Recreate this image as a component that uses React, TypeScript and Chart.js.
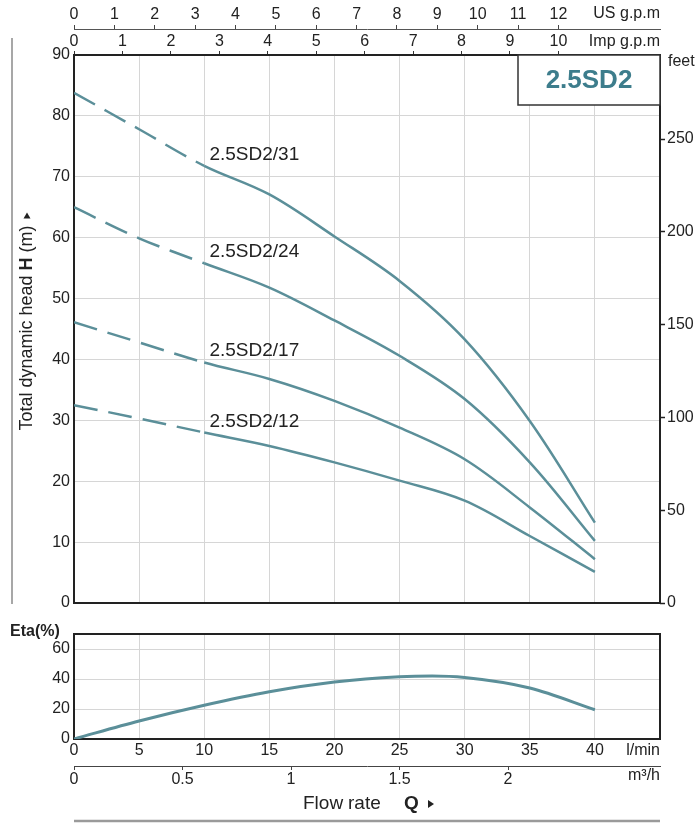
import React, { useEffect, useRef } from "react";
import { Chart, registerables } from "chart.js";

Chart.register(...registerables);

// ---------------- data ----------------
const FLOW_LMIN = [0, 5, 10, 15, 20, 25, 30, 35, 40];
const MODEL_NAMES = ["2.5SD2/31", "2.5SD2/24", "2.5SD2/17", "2.5SD2/12"];
const HEAD_31 = [83.8, 77.8, 71.8, 67.1, 60.2, 52.9, 43.3, 29.9, 13.2];
const HEAD_24 = [65.0, 59.9, 55.8, 51.8, 46.4, 40.6, 33.5, 23.1, 10.2];
const HEAD_17 = [46.1, 42.8, 39.5, 36.8, 33.2, 28.8, 23.6, 15.7, 7.2];
const HEAD_12 = [32.5, 30.3, 28.0, 25.8, 23.1, 20.1, 16.8, 11.0, 5.1];
const HEAD_SERIES = [HEAD_31, HEAD_24, HEAD_17, HEAD_12];

const ETA_FLOW = [0, 5, 10, 15, 20, 25, 27.5, 30, 35, 40];
const ETA_PCT = [0, 12, 22.5, 31.5, 38, 41.5, 42, 41, 34, 19.5];

const LMIN_TICKS = [0, 5, 10, 15, 20, 25, 30, 35, 40];
const M3H_TICKS = [0, 0.5, 1, 1.5, 2];
const USGPM_TICKS = [0, 1, 2, 3, 4, 5, 6, 7, 8, 9, 10, 11, 12];
const IMPGPM_TICKS = [0, 1, 2, 3, 4, 5, 6, 7, 8, 9, 10];
const FEET_TICKS = [0, 50, 100, 150, 200, 250];
const ETA_GRID = [0, 10, 20, 30, 40, 50, 60, 70];
const ETA_LABELED = [0, 20, 40, 60];
const CHART_TITLE = "2.5SD2";

// ---------------- scale constants ----------------
const FLOW_MAX = 45; // l/min at right edge
const HEAD_MAX = 90;
const ETA_MAX = 70;
const M_TO_FT = 3.28084;
const LMIN_PER_USGPM = 3.1;
const LMIN_PER_IMPGPM = 3.72;
const LMIN_PER_M3H = 1000 / 60;
const DASH_END = 10; // dashed part of curves up to this flow
const LABEL_FLOW = 10.4;

// ---------------- styles ----------------
const FONT = '"Liberation Sans", Arial, sans-serif';
const TEXT = "#222";
const CURVE = "#5b8f99";
const GRID = "#d6d6d6";
const FRAME = "#222";
const TITLE_COLOR = "#3d7d8c";

const tickFont = { family: FONT, size: 16 };

const setTicks = (arr: number[]) => (s: any) => {
  s.ticks = arr.map((v) => ({ value: v }));
};

const frameBorder = {
  id: "frameBorder",
  beforeDatasetsDraw(chart: any) {
    const { ctx, chartArea: a } = chart;
    ctx.save();
    ctx.strokeStyle = FRAME;
    ctx.lineWidth = 2;
    ctx.strokeRect(a.left, a.top, a.right - a.left, a.bottom - a.top);
    ctx.restore();
  },
};

const mainDecor = {
  id: "mainDecor",
  afterDraw(chart: any) {
    const { ctx, chartArea: a } = chart;
    ctx.save();
    // left vertical line
    ctx.strokeStyle = "#8a8a8a";
    ctx.lineWidth = 1.5;
    ctx.beginPath();
    ctx.moveTo(12, 38);
    ctx.lineTo(12, a.bottom + 1);
    ctx.stroke();

    // y title (rotated)
    ctx.save();
    ctx.translate(27, 321);
    ctx.rotate(-Math.PI / 2);
    ctx.textBaseline = "middle";
    ctx.fillStyle = TEXT;
    const reg = `18px ${FONT}`;
    const bold = `bold 18px ${FONT}`;
    const parts: [string, string][] = [
      ["Total dynamic head ", reg],
      ["H", bold],
      [" (m)", reg],
    ];
    let total = 0;
    const widths = parts.map(([t, f]) => {
      ctx.font = f;
      const w = ctx.measureText(t).width;
      total += w;
      return w;
    });
    total += 14;
    let x = -total / 2;
    parts.forEach(([t, f], i) => {
      ctx.font = f;
      ctx.textAlign = "left";
      ctx.fillText(t, x, 0);
      x += widths[i];
    });
    x += 7;
    ctx.beginPath();
    ctx.moveTo(x, -3.5);
    ctx.lineTo(x, 3.5);
    ctx.lineTo(x + 6, 0);
    ctx.closePath();
    ctx.fill();
    ctx.restore();

    // axis unit labels
    ctx.fillStyle = TEXT;
    ctx.font = `16px ${FONT}`;
    ctx.textBaseline = "middle";
    ctx.textAlign = "right";
    ctx.fillText("US g.p.m", a.right, 14);
    ctx.fillText("Imp g.p.m", a.right, 42);
    ctx.textAlign = "left";
    ctx.fillText("feet", a.right + 8, 62);

    // model title box
    const bw = 142;
    const bh = 50;
    ctx.fillStyle = "#fff";
    ctx.fillRect(a.right - bw, a.top, bw, bh);
    ctx.strokeStyle = "#333";
    ctx.lineWidth = 1.5;
    ctx.strokeRect(a.right - bw, a.top, bw, bh);
    ctx.fillStyle = TITLE_COLOR;
    ctx.font = `bold 26px ${FONT}`;
    ctx.textAlign = "center";
    ctx.textBaseline = "middle";
    ctx.fillText(CHART_TITLE, a.right - bw / 2, a.top + bh / 2 + 1);

    // curve labels
    const xs = chart.scales.x;
    const lx = xs.getPixelForValue(LABEL_FLOW);
    ctx.fillStyle = TEXT;
    ctx.font = `19px ${FONT}`;
    ctx.textAlign = "left";
    ctx.textBaseline = "alphabetic";
    MODEL_NAMES.forEach((name, i) => {
      const meta = chart.getDatasetMeta(i);
      const idx = FLOW_LMIN.indexOf(DASH_END);
      const py = meta.data[idx].y;
      ctx.fillText(name, lx, py - 6);
    });
    ctx.restore();
  },
};

const etaDecor = {
  id: "etaDecor",
  afterDraw(chart: any) {
    const { ctx, chartArea: a } = chart;
    ctx.save();
    ctx.fillStyle = TEXT;
    ctx.textBaseline = "middle";
    ctx.font = `bold 16px ${FONT}`;
    ctx.textAlign = "left";
    ctx.fillText("Eta(%)", 10, 12);

    ctx.font = `16px ${FONT}`;
    ctx.textAlign = "right";
    ctx.fillText("l/min", a.right, 131);
    ctx.fillText("m³/h", a.right, 156);

    // Flow rate Q
    ctx.font = `19px ${FONT}`;
    ctx.textAlign = "left";
    const fy = 184;
    ctx.fillText("Flow", 303, fy);
    ctx.fillText("rate", 348, fy);
    ctx.font = `bold 19px ${FONT}`;
    ctx.fillText("Q", 404, fy);
    ctx.beginPath();
    ctx.moveTo(428, fy - 4);
    ctx.lineTo(428, fy + 4);
    ctx.lineTo(434, fy);
    ctx.closePath();
    ctx.fill();

    // bottom gray rule
    ctx.strokeStyle = "#9a9a9a";
    ctx.lineWidth = 2.5;
    ctx.beginPath();
    ctx.moveTo(a.left, 201);
    ctx.lineTo(a.right, 201);
    ctx.stroke();
    ctx.restore();
  },
};

export default function App() {
  const mainRef = useRef<HTMLCanvasElement | null>(null);
  const etaRef = useRef<HTMLCanvasElement | null>(null);

  useEffect(() => {
    Chart.defaults.font.family = FONT;
    Chart.defaults.color = TEXT;

    const mainChart = new Chart(mainRef.current as HTMLCanvasElement, {
      type: "line",
      data: {
        datasets: HEAD_SERIES.map((vals, i) => ({
          label: MODEL_NAMES[i],
          data: FLOW_LMIN.map((x, j) => ({ x, y: vals[j] })),
          borderColor: CURVE,
          borderWidth: 2.5,
          pointRadius: 0,
          fill: false,
          tension: 0.35,
          segment: {
            borderDash: (ctx: any) =>
              ctx.p1.parsed.x <= DASH_END ? [24, 11] : undefined,
          },
          xAxisID: "x",
          yAxisID: "y",
        })),
      } as any,
      options: {
        responsive: false,
        maintainAspectRatio: false,
        animation: false,
        devicePixelRatio: 1,
        layout: { padding: { left: 0, right: 0, top: 0, bottom: 17 } },
        plugins: { legend: { display: false }, tooltip: { enabled: false } },
        scales: {
          x: {
            type: "linear",
            position: "bottom",
            min: 0,
            max: FLOW_MAX,
            ticks: { display: false, stepSize: 5 },
            grid: { color: GRID, lineWidth: 1, drawTicks: false },
            border: { display: false },
            afterFit: (s: any) => {
              s.height = 0;
            },
          },
          imp: {
            type: "linear",
            position: "top",
            weight: 1,
            min: 0,
            max: FLOW_MAX / LMIN_PER_IMPGPM,
            afterBuildTicks: setTicks(IMPGPM_TICKS),
            afterFit: (s: any) => {
              s.height = 26;
            },
            grid: {
              drawOnChartArea: false,
              drawTicks: true,
              tickLength: 4,
              tickColor: "#333",
              tickWidth: 1,
            },
            border: { display: false },
            ticks: {
              padding: 0,
              font: tickFont,
              color: TEXT,
              autoSkip: false,
              maxRotation: 0,
              callback: (v: any) => String(v),
            },
          },
          us: {
            type: "linear",
            position: "top",
            weight: 2,
            min: 0,
            max: FLOW_MAX / LMIN_PER_USGPM,
            afterBuildTicks: setTicks(USGPM_TICKS),
            afterFit: (s: any) => {
              s.height = 29;
            },
            grid: {
              drawOnChartArea: false,
              drawTicks: true,
              tickLength: 4,
              tickColor: "#444",
              tickWidth: 1,
            },
            border: { display: true, color: "#555", width: 1 },
            ticks: {
              padding: 1,
              font: tickFont,
              color: TEXT,
              autoSkip: false,
              maxRotation: 0,
              callback: (v: any) => String(v),
            },
          },
          y: {
            type: "linear",
            position: "left",
            min: 0,
            max: HEAD_MAX,
            ticks: { stepSize: 10, padding: 4, font: tickFont, color: TEXT },
            grid: { color: GRID, lineWidth: 1, drawTicks: false },
            border: { display: false },
            afterFit: (s: any) => {
              s.width = 74;
            },
          },
          y2: {
            type: "linear",
            position: "right",
            min: 0,
            max: HEAD_MAX * M_TO_FT,
            afterBuildTicks: setTicks(FEET_TICKS),
            ticks: {
              padding: 2,
              font: tickFont,
              color: TEXT,
              callback: (v: any) => String(v),
            },
            grid: {
              drawOnChartArea: false,
              drawTicks: true,
              tickLength: 5,
              tickColor: FRAME,
              tickWidth: 1.5,
            },
            border: { display: false },
            afterFit: (s: any) => {
              s.width = 40;
            },
          },
        },
      } as any,
      plugins: [frameBorder, mainDecor],
    });

    const etaChart = new Chart(etaRef.current as HTMLCanvasElement, {
      type: "line",
      data: {
        datasets: [
          {
            label: "Eta",
            data: ETA_FLOW.map((x, j) => ({ x, y: ETA_PCT[j] })),
            borderColor: CURVE,
            borderWidth: 3,
            pointRadius: 0,
            fill: false,
            cubicInterpolationMode: "monotone",
            xAxisID: "x",
            yAxisID: "y",
          },
        ],
      } as any,
      options: {
        responsive: false,
        maintainAspectRatio: false,
        animation: false,
        devicePixelRatio: 1,
        layout: { padding: { left: 0, right: 40, top: 14, bottom: 37 } },
        plugins: { legend: { display: false }, tooltip: { enabled: false } },
        scales: {
          x: {
            type: "linear",
            position: "bottom",
            weight: 1,
            min: 0,
            max: FLOW_MAX,
            afterBuildTicks: setTicks(LMIN_TICKS),
            afterFit: (s: any) => {
              s.height = 27;
            },
            grid: { color: GRID, lineWidth: 1, drawTicks: false },
            border: { display: false },
            ticks: {
              padding: 2,
              font: tickFont,
              color: TEXT,
              autoSkip: false,
              maxRotation: 0,
              callback: (v: any) => String(v),
            },
          },
          m3h: {
            type: "linear",
            position: "bottom",
            weight: 2,
            min: 0,
            max: FLOW_MAX / LMIN_PER_M3H,
            afterBuildTicks: setTicks(M3H_TICKS),
            afterFit: (s: any) => {
              s.height = 30;
            },
            grid: {
              drawOnChartArea: false,
              drawTicks: true,
              tickLength: 4,
              tickColor: "#444",
              tickWidth: 1,
            },
            border: { display: true, color: "#444", width: 1 },
            ticks: {
              padding: 0,
              font: tickFont,
              color: TEXT,
              autoSkip: false,
              maxRotation: 0,
              callback: (v: any) => String(v),
            },
          },
          y: {
            type: "linear",
            position: "left",
            min: 0,
            max: ETA_MAX,
            afterBuildTicks: setTicks(ETA_GRID),
            ticks: {
              padding: 4,
              font: tickFont,
              color: TEXT,
              callback: (v: any) => (ETA_LABELED.includes(v) ? String(v) : ""),
            },
            grid: { color: GRID, lineWidth: 1, drawTicks: false },
            border: { display: false },
            afterFit: (s: any) => {
              s.width = 74;
            },
          },
        },
      } as any,
      plugins: [frameBorder, etaDecor],
    });

    return () => {
      mainChart.destroy();
      etaChart.destroy();
    };
  }, []);

  return (
    <div
      style={{
        position: "absolute",
        left: 0,
        top: 0,
        width: 700,
        height: 833,
        background: "#fff",
      }}
    >
      <canvas
        ref={mainRef}
        width={700}
        height={620}
        style={{ position: "absolute", left: 0, top: 0, width: 700, height: 620 }}
      />
      <canvas
        ref={etaRef}
        width={700}
        height={213}
        style={{ position: "absolute", left: 0, top: 620, width: 700, height: 213 }}
      />
    </div>
  );
}
